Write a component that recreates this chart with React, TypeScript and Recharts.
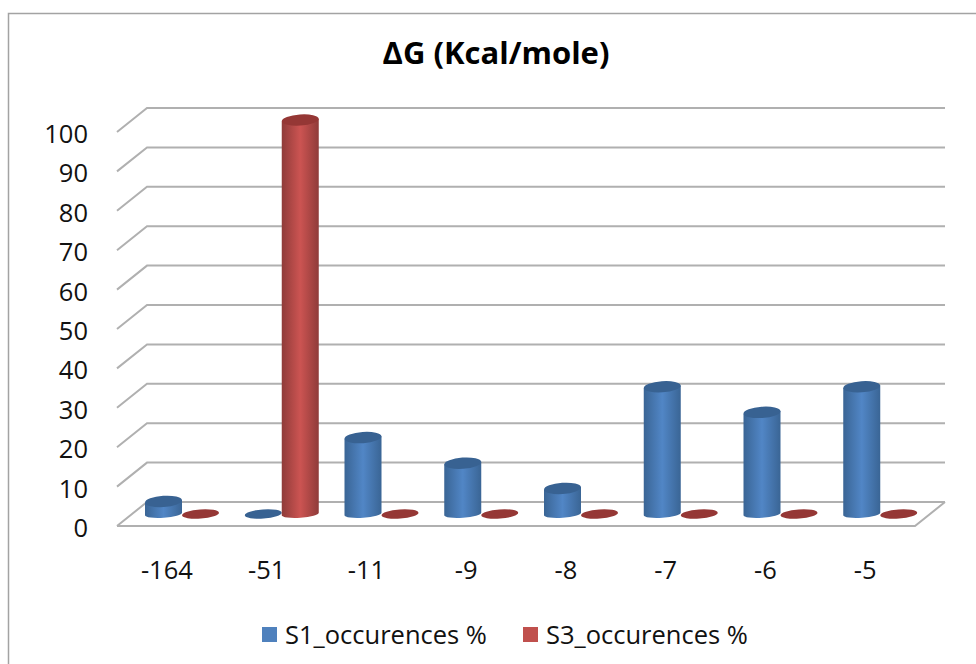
import { BarChart, Bar, XAxis, YAxis, CartesianGrid, Legend } from "recharts";

const categories = ["-164", "-51", "-11", "-9", "-8", "-7", "-6", "-5"];
const s1Values = [3.2, 0, 19.4, 12.9, 6.5, 32.3, 25.8, 32.3];
const s3Values = [0, 100, 0, 0, 0, 0, 0, 0];
const yTicks = [0, 10, 20, 30, 40, 50, 60, 70, 80, 90, 100];

const data = categories.map((name, i) => ({
  name,
  "S1_occurences %": s1Values[i],
  "S3_occurences %": s3Values[i],
}));

const FONT = "'Open Sans', sans-serif";
const GRID = "#b0b0b0";
// how far the back wall sits behind the front plane
const DEPTH_X = 30;
const DEPTH_Y = 24;

const TILT = -4;

function Cylinder(props: any) {
  const { x, y, width, height, dataKey } = props;
  const isBlue = String(dataKey).startsWith("S1");
  const dark = isBlue ? "#386292" : "#953735";
  const cx = x + width / 2 + DEPTH_X / 2;
  const base = y + height - DEPTH_Y / 2;
  const top = y - DEPTH_Y / 2;
  const rx = width / 2;

  if (height < 0.5) {
    return <ellipse cx={cx} cy={base} rx={rx} ry={4.6} fill={dark} transform={`rotate(${TILT} ${cx} ${base})`} />;
  }
  const lift = 1.3;
  const body =
    `M${cx - rx},${top + lift} L${cx - rx},${base + lift} ` +
    `A${rx},3.8 ${TILT} 0 0 ${cx + rx},${base - lift} L${cx + rx},${top - lift} Z`;
  return (
    <g>
      <path d={body} fill={isBlue ? "url(#blueBar)" : "url(#redBar)"} />
      <ellipse cx={cx} cy={top} rx={rx} ry={5.6} fill={dark} transform={`rotate(${TILT} ${cx} ${top})`} />
    </g>
  );
}

// each value line: short diagonal up the side wall, then along the back wall
function gridLine(props: any) {
  const { x1, y1, x2, index, y, height } = props;
  const isFloor = Math.abs(y1 - (y + height)) < 1;
  return (
    <g key={`grid-${index}`} stroke={GRID} strokeWidth={2} fill="none">
      <path d={`M${x1},${y1} L${x1 + DEPTH_X},${y1 - DEPTH_Y} L${x2 + DEPTH_X},${y1 - DEPTH_Y}`} />
      {isFloor && <path d={`M${x1},${y1} L${x2},${y1} L${x2 + DEPTH_X},${y1 - DEPTH_Y}`} />}
    </g>
  );
}

function LegendRow({ payload }: any) {
  return (
    <div style={{ display: "flex", height: 34, paddingLeft: 205, gap: 36, fontFamily: FONT, fontSize: 25.5, color: "#111" }}>
      {(payload || []).map((p: any) => (
        <div key={p.value} style={{ display: "flex", alignItems: "center", gap: 8 }}>
          <span style={{ width: 15, height: 15, background: p.color, display: "inline-block" }} />
          <span>{p.value}</span>
        </div>
      ))}
    </div>
  );
}

export default function App() {
  return (
    <div style={{ position: "absolute", left: 0, top: 0, width: 976, height: 664, overflow: "hidden", background: "#fff" }}>
      <BarChart
        width={976}
        height={664}
        data={data}
        barSize={37}
        barGap={0}
        margin={{ top: 132, right: 61, bottom: 44, left: 57 }}
      >
        <defs>
          <linearGradient id="blueBar" x1="0" y1="0" x2="1" y2="0">
            <stop offset="0" stopColor="#3a6595" />
            <stop offset="0.5" stopColor="#5186c6" />
            <stop offset="1" stopColor="#3a6595" />
          </linearGradient>
          <linearGradient id="redBar" x1="0" y1="0" x2="1" y2="0">
            <stop offset="0" stopColor="#8f3b39" />
            <stop offset="0.5" stopColor="#cc5452" />
            <stop offset="1" stopColor="#8f3b39" />
          </linearGradient>
        </defs>
        <rect x={8.5} y={13.5} width={1000} height={700} fill="none" stroke="#a3a3a3" strokeWidth={1.5} />
        <text x={496} y={64} textAnchor="middle" fontFamily={FONT} fontSize={31} fontWeight={700} fill="#000">
          ΔG (Kcal/mole)
        </text>
        <CartesianGrid vertical={false} horizontal={gridLine} />
        <XAxis
          dataKey="name"
          axisLine={false}
          tickLine={false}
          height={60}
          tickMargin={29}
          tick={{ fontFamily: FONT, fontSize: 25.5, fill: "#111" }}
        />
        <YAxis
          domain={[0, 100]}
          ticks={yTicks}
          width={60}
          interval={0}
          axisLine={false}
          tickLine={false}
          tickMargin={23}
          tick={{ fontFamily: FONT, fontSize: 25.5, fill: "#111", dy: 2 }}
        />
        <Legend verticalAlign="bottom" content={<LegendRow />} wrapperStyle={{ bottom: 13 }} />
        <Bar dataKey="S1_occurences %" fill="#4f81bd" shape={Cylinder} isAnimationActive={false} />
        <Bar dataKey="S3_occurences %" fill="#c0504d" shape={Cylinder} isAnimationActive={false} />
      </BarChart>
    </div>
  );
}
